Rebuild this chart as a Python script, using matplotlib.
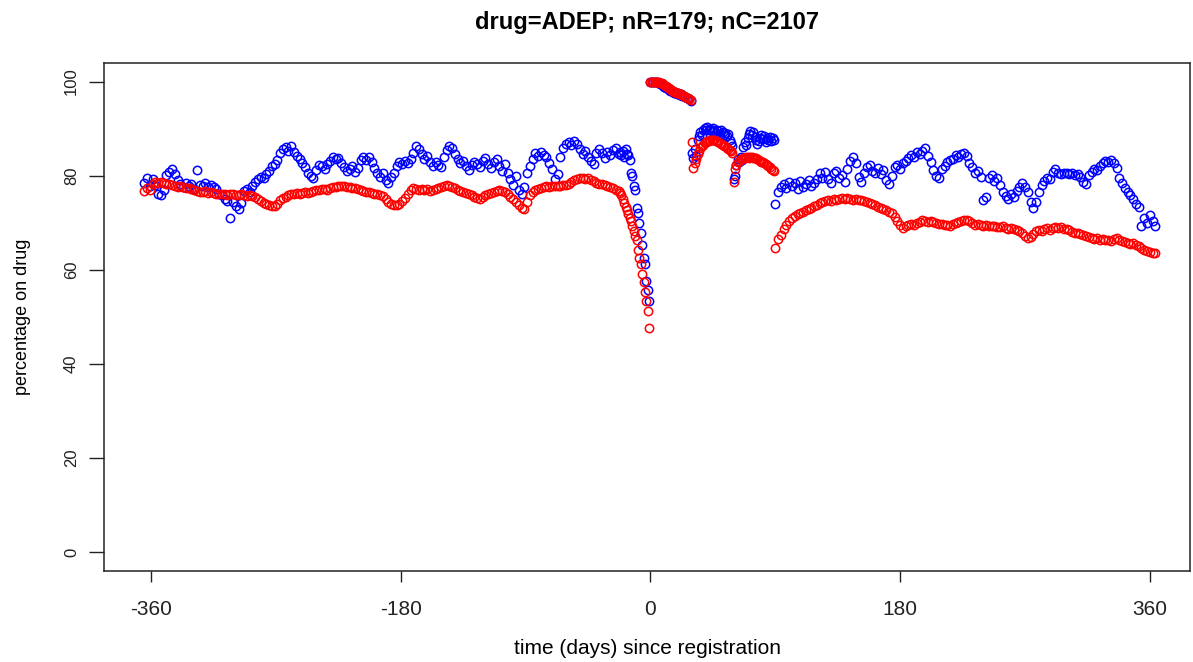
import matplotlib
matplotlib.use('Agg')
import matplotlib.pyplot as plt
import numpy as np

# -------------------------- Data --------------------------
# Percentage of patients on drug per day relative to registration.
# pct_r: registered group (nR), pct_c: comparison group (nC)

# year before registration, every second day
pre_days = np.arange(-365, -24, 2)
pre_r = [78.5, 79.6, 77.8,
         79.2, 78.0, 76.2, 75.9, 77.0, 80.2, 80.8,
         81.4, 80.3, 79.0, 78.2, 77.6, 78.5, 77.9, 78.3, 77.1, 81.3,
         78.1, 77.8, 78.4, 77.5, 78.0, 77.6, 77.2,
         76.2, 75.8, 75.0, 74.6, 70.9, 74.3, 73.5, 73.0, 74.2, 76.8,
         77.2, 76.5, 77.8, 78.6,
         79.3, 79.8, 79.5, 80.3, 81.0,
         82.0, 82.5, 83.3,
         84.8, 85.6, 86.0, 85.2,
         86.4, 85.0, 84.2, 83.5, 82.6, 81.8, 80.6, 80.0,
         79.6, 81.2, 82.3, 82.0, 81.5, 82.4, 83.1,
         84.0, 83.5, 83.8, 82.6, 81.8, 80.9, 81.5,
         82.0, 80.8, 81.7, 83.3, 83.9,
         83.4, 84.0, 82.8, 81.6, 80.5, 79.8, 80.6,
         79.0, 78.5, 79.8, 80.6, 82.0, 82.8,
         82.4, 83.1, 82.6,
         83.6, 84.8, 86.2, 85.6, 84.5, 83.6, 84.2, 82.8, 82.0, 83.0, 82.3, 81.8, 84.0,
         85.5, 86.3, 85.8, 84.6,
         83.5, 82.6, 83.2, 82.0, 81.3, 82.2, 83.0, 82.4,
         81.8, 83.2, 83.8, 82.5, 81.6, 82.8, 83.5, 82.0, 81.0, 82.4,
         80.6, 79.2, 78.1, 80.0, 77.0, 76.2, 77.6,
         80.6, 82.1, 83.6, 84.8, 84.2,
         85.0, 84.4, 83.9, 82.6, 81.5, 79.2, 80.4, 84.0, 85.8, 86.8, 87.2,
         86.5, 87.3, 86.8, 85.6, 84.6, 85.2, 84.0, 83.2, 82.4,
         84.8, 85.6, 84.9, 83.8, 85.1, 84.3, 85.5,
         85.8]
pre_c = [76.8, 77.3, 77.0,
         78.3, 78.6, 78.4, 78.7, 78.5, 78.2, 78.3,
         78.0, 77.9, 77.6, 77.8, 77.5, 77.3, 77.4, 77.1, 77.0, 76.8,
         76.6, 76.5, 76.7, 76.4, 76.5, 76.3, 76.2,
         76.1, 76.0, 76.2, 75.9, 76.0, 76.1, 75.8, 75.9, 76.0, 75.8,
         75.7, 75.8, 75.6, 75.5,
         75.0, 74.6, 74.2, 74.0, 73.7,
         73.5, 73.6, 73.9,
         74.8, 75.3, 75.5, 75.8,
         76.0, 76.2, 76.3, 76.1, 76.4, 76.5, 76.3, 76.6,
         76.8, 77.0, 76.9, 77.1, 77.2, 77.0, 77.3,
         77.5, 77.6, 77.8, 77.7, 77.9, 77.6, 77.5,
         77.3, 77.4, 77.2, 77.0, 76.8,
         76.6, 76.5, 76.3, 76.1, 76.0, 75.8, 75.6,
         75.0, 74.4, 74.0, 73.7, 73.8, 74.0,
         74.6, 75.2, 76.0,
         77.0, 77.3, 77.1, 76.9, 77.2, 77.0, 77.1, 76.8, 77.0, 77.2, 77.4, 77.6, 77.8,
         78.0, 77.8, 77.5, 77.3,
         77.0, 76.8, 76.6, 76.3, 76.0, 75.8, 75.5, 75.2,
         75.0, 75.4, 75.8, 76.0, 76.3, 76.5, 76.8, 77.0, 76.8, 76.5,
         76.0, 75.5, 75.0, 74.4, 73.8, 73.2, 72.9,
         74.5, 75.8, 76.5, 77.0, 77.2,
         77.4, 77.5, 77.7, 77.6, 77.8, 77.9, 77.7, 77.8, 78.0, 78.1, 78.3,
         78.6, 79.0, 79.2, 79.4, 79.5, 79.3, 79.4, 79.1, 78.8,
         78.5, 78.3, 78.2, 78.0, 77.9, 77.6, 77.4,
         77.0]

# last three weeks before registration, daily
drop_days = np.arange(-23, 0)
drop_r = [84.6, 85.0, 84.4, 85.3, 84.0, 85.6, 84.6, 84.4, 83.4, 80.6, 79.9, 77.8,
          77.0, 73.2, 72.1, 70.0, 67.9, 65.2, 62.6, 61.2, 57.7, 55.6, 53.4]
drop_c = [76.8, 76.4, 75.8, 75.0, 74.2, 73.4, 72.6, 71.9, 71.1, 70.3, 69.3, 68.2,
          67.2, 66.3, 64.3, 62.6, 61.2, 59.1, 57.3, 55.2, 53.3, 51.3, 47.6]

# first three 30-day supply cycles after registration, daily
cyc1_days = np.arange(0, 30)
cyc1_r = [100.0, 100.0, 99.9, 99.9, 99.8, 99.8, 99.6, 99.4, 99.5, 99.1,
          98.9, 98.6, 98.8, 98.3, 98.0, 98.2, 97.8, 97.5, 97.7, 97.4,
          97.6, 97.2, 97.4, 96.9, 97.0, 96.7, 96.4, 96.6, 96.2, 95.8]
cyc1_c = [100.0, 100.0, 100.0, 99.9, 99.9, 99.8, 99.8, 99.7, 99.6, 99.4,
          99.2, 99.0, 98.8, 98.6, 98.4, 98.2, 98.0, 97.8, 97.7, 97.6,
          97.5, 97.4, 97.3, 97.2, 97.0, 96.8, 96.6, 96.5, 96.3, 96.1]

cyc2_days = np.arange(30, 60)
cyc2_r = [84.8, 83.8, 85.6, 84.2, 87.6, 88.4, 89.2, 88.6, 89.8, 90.2,
          89.6, 90.4, 89.8, 90.0, 89.4, 90.2, 89.6, 89.0, 89.8, 89.4,
          88.8, 89.6, 89.2, 88.6, 89.0, 88.4, 88.8, 87.6, 87.0, 86.4]
cyc2_c = [87.2, 81.6, 82.6, 83.6, 84.6, 85.3, 85.8, 86.2, 86.6, 86.9,
          87.1, 87.3, 87.4, 87.6, 87.5, 87.6, 87.5, 87.4, 87.3, 87.2,
          87.0, 86.8, 86.6, 86.4, 86.2, 85.9, 85.7, 85.5, 85.2, 84.9]

cyc3_days = np.arange(60, 90)
cyc3_r = [79.2, 80.0, 82.2, 83.6, 82.8, 84.0, 83.4, 86.0, 87.2, 86.6,
          88.0, 88.8, 89.4, 88.6, 89.2, 88.2, 87.6, 86.8, 87.4, 88.0,
          88.6, 87.8, 88.4, 87.2, 88.0, 87.6, 88.2, 87.4, 88.0, 87.6]
cyc3_c = [78.6, 81.4, 82.2, 82.8, 83.2, 83.5, 83.6, 83.7, 83.8, 83.9,
          83.9, 83.8, 84.0, 83.9, 83.8, 83.8, 83.7, 83.6, 83.4, 83.2,
          83.0, 82.8, 82.6, 82.4, 82.2, 82.0, 81.8, 81.5, 81.2, 80.9]

# remainder of the year after registration, every second day
post_days = np.arange(90, 365, 2)
post_r = [74.0, 76.5, 77.6, 78.3, 77.4, 78.6, 77.9,
          78.4, 77.2, 78.8, 77.6, 78.3, 79.0, 77.8, 78.5, 79.3, 80.6, 79.6,
          80.8, 79.2, 78.4, 80.5, 81.0, 79.6, 80.2, 78.6, 81.4, 83.2, 84.0, 82.6, 79.8, 78.6, 80.6, 81.8,
          82.2, 81.0, 80.6, 81.6, 80.4, 81.2, 79.0, 78.2, 80.0,
          81.8, 82.3, 81.4, 82.6,
          83.2, 83.8, 84.4, 84.0, 85.0, 84.6, 85.3, 85.8, 84.2, 83.0, 81.2, 80.0,
          79.6, 81.5, 82.0, 82.8, 83.4, 83.6, 84.3, 83.9, 84.6, 84.8, 84.2, 82.6,
          81.8, 80.6, 81.0, 79.8, 74.8, 75.4, 79.6, 80.2, 78.8, 79.4, 78.0, 76.6,
          75.6, 75.0, 76.2, 75.4, 76.8, 77.6, 78.4,
          77.5, 76.5, 74.5, 73.2,
          74.4, 76.6, 78.0, 78.8, 79.6, 79.2,
          80.8, 81.4, 80.6, 80.4, 80.6, 80.5, 80.3,
          80.6, 80.2, 80.4, 79.8, 78.6, 78.2, 80.2,
          80.8, 81.4, 81.2, 82.0, 82.6, 83.2, 82.8, 83.4,
          82.6, 81.6, 79.6, 78.4, 77.4,
          76.6, 75.8, 75.0, 74.0, 73.4,
          69.4, 71.0, 70.0, 71.6, 70.4, 69.2]
post_c = [64.7, 66.6, 67.4, 68.6, 69.6, 70.4, 71.0,
          71.4, 71.8, 72.0, 72.3, 72.6, 72.9, 73.2, 73.5, 73.8, 74.1, 74.4,
          74.6, 74.8, 74.7, 75.0, 74.9, 75.1, 75.2, 75.0, 75.3, 75.1, 74.9, 75.0, 74.8, 74.9, 74.6, 74.4,
          74.2, 74.0, 73.7, 73.4, 73.2, 72.9, 72.6, 72.3, 72.0,
          71.3, 70.4, 69.5, 68.9,
          69.2, 69.5, 69.8, 69.6, 70.0, 70.2, 70.5, 70.3, 70.1, 70.4, 70.2, 69.9,
          69.7, 69.8, 69.5, 69.6, 69.4, 69.7, 69.9, 70.1, 70.3, 70.5, 70.6, 70.4,
          69.9, 69.6, 69.8, 69.5, 69.3, 69.6, 69.4, 69.2, 69.4, 69.1, 69.0, 69.2,
          68.9, 68.7, 68.9, 68.6, 68.4, 68.2, 67.8,
          67.1, 66.8, 67.0, 67.6,
          68.2, 68.5, 68.3, 68.6, 68.8, 68.5,
          68.9, 69.1, 68.8, 69.0, 68.7, 68.6, 68.4,
          68.1, 67.9, 67.8, 67.6, 67.4, 67.2, 67.0,
          66.8, 66.6, 66.7, 66.4, 66.5, 66.3, 66.4, 66.2,
          66.5, 66.7, 66.3, 66.1, 65.9,
          65.7, 65.5, 65.6, 65.2, 65.0,
          64.6, 64.2, 64.0, 63.8, 63.6, 63.5]

title = 'drug=ADEP; nR=179; nC=2107'
x_ticks = [-360, -180, 0, 180, 360]
y_ticks = [0, 20, 40, 60, 80, 100]

# -------------------------- Plot --------------------------
plt.rcParams['font.family'] = ['Liberation Sans', 'DejaVu Sans']
plt.rcParams['axes.unicode_minus'] = False  # plain hyphen for negative ticks

days = np.concatenate([pre_days, drop_days, cyc1_days, cyc2_days, cyc3_days, post_days])
pct_r = np.concatenate([pre_r, drop_r, cyc1_r, cyc2_r, cyc3_r, post_r])
pct_c = np.concatenate([pre_c, drop_c, cyc1_c, cyc2_c, cyc3_c, post_c])

fig = plt.figure(figsize=(11.93, 6.62), dpi=100)
ax = fig.add_axes([0.0872, 0.1375, 0.9103, 0.7678])

# open circles like R's pch=1
ax.plot(days, pct_r, linestyle='none', marker='o', ms=6.0, mfc='none',
        mec='#0000ff', mew=1.1)
ax.plot(days, pct_c, linestyle='none', marker='o', ms=6.0, mfc='none',
        mec='#ff0000', mew=1.1)

ax.set_xlim(-394, 389)
ax.set_ylim(-4, 104)
ax.set_xticks(x_ticks)
ax.set_yticks(y_ticks)
ax.tick_params(axis='x', length=8, width=1.0, pad=13, labelsize=15, colors='#222222')
ax.tick_params(axis='y', length=11, width=1.0, pad=7, labelsize=12, colors='#222222')
for lab in ax.get_yticklabels():
    lab.set_rotation(90)
    lab.set_va('center')

for sp in ax.spines.values():
    sp.set_linewidth(1.1)
    sp.set_color('#222222')

ax.set_xlabel('time (days) since registration', fontsize=15)
ax.xaxis.set_label_coords(0.5, -0.152)
ax.xaxis.label.set_va('center')
ax.set_ylabel('percentage on drug', fontsize=13)
ax.yaxis.set_label_coords(-0.075, 0.5)
ax.yaxis.label.set_va('center')

fig.text(0.5423, 0.966, title, ha='center', va='center', fontsize=17, fontweight='bold')

fig.savefig('out.png', dpi=100)
